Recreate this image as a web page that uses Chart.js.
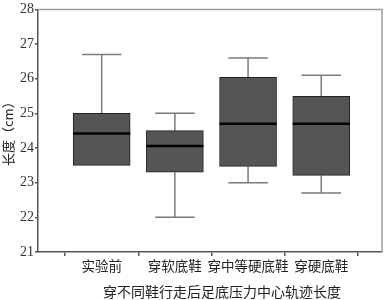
<!DOCTYPE html>
<html>
<head>
<meta charset="utf-8">
<script src="https://cdn.jsdelivr.net/npm/chart.js@4/dist/chart.umd.min.js"></script>
<style>
  html, body { margin: 0; padding: 0; background: #fff; }
</style>
</head>
<body>
<canvas id="chart_Box" width="385" height="300"></canvas>
<script>
const categories = ['实验前', '穿软底鞋', '穿中等硬底鞋', '穿硬底鞋'];
const whiskerMax = [26.7, 25.0, 26.6, 26.1];
const q3 = [25.0, 24.5, 26.04, 25.49];
const median = [24.42, 24.06, 24.7, 24.7];
const q1 = [23.5, 23.3, 23.47, 23.21];
const whiskerMin = [23.5, 22.0, 23.0, 22.7];
const yTicks = [21, 22, 23, 24, 25, 26, 27, 28];

const CJK = '"Noto Sans CJK SC", sans-serif';

// line segments built from the arrays, split with gaps
function segments(list) {
  var out = [];
  list.forEach(function (s) {
    out.push({x: s[0], y: s[1]}, {x: s[2], y: s[3]}, {x: null, y: null});
  });
  return out;
}

var cap = 0.27, half = 0.39;
var whiskerSegs = [];
var medianSegs = [];
categories.forEach(function (c, i) {
  var x = i + 1;
  if (whiskerMax[i] > q3[i]) {
    whiskerSegs.push([x, q3[i], x, whiskerMax[i]]);
    whiskerSegs.push([x - cap, whiskerMax[i], x + cap, whiskerMax[i]]);
  }
  if (whiskerMin[i] < q1[i]) {
    whiskerSegs.push([x, q1[i], x, whiskerMin[i]]);
    whiskerSegs.push([x - cap, whiskerMin[i], x + cap, whiskerMin[i]]);
  }
  medianSegs.push([x - half, median[i], x + half, median[i]]);
});

const framePlugin = {
  id: 'frame',
  afterDraw(chart) {
    var a = chart.chartArea, ctx = chart.ctx;
    ctx.save();
    ctx.strokeStyle = '#9a9a9a';
    ctx.lineWidth = 1.5;
    ctx.beginPath();
    ctx.moveTo(a.left, a.top);
    ctx.lineTo(a.right, a.top);
    ctx.lineTo(a.right, a.bottom);
    ctx.stroke();
    ctx.fillStyle = '#222';
    ctx.font = '14px ' + CJK;
    ctx.textAlign = 'center';
    ctx.textBaseline = 'middle';
    ctx.fillText('穿不同鞋行走后足底压力中心轨迹长度', 222, 292);
    ctx.restore();
  }
};

const ctx = document.getElementById('chart_Box');

new Chart(ctx, {
  type: 'bar',
  data: {
    datasets: [
      {
        type: 'bar',
        data: categories.map(function (c, i) { return {x: i + 1, y: [q1[i], q3[i]]}; }),
        backgroundColor: '#555555',
        borderColor: '#222222',
        borderWidth: 1,
        borderSkipped: false,
        barThickness: 57,
        order: 1
      },
      {
        type: 'scatter',
        data: segments(whiskerSegs),
        showLine: true,
        spanGaps: false,
        borderColor: '#7a7a7a',
        borderWidth: 1.5,
        pointRadius: 0,
        order: 2
      },
      {
        type: 'scatter',
        data: segments(medianSegs),
        showLine: true,
        spanGaps: false,
        borderColor: '#000000',
        borderWidth: 2.5,
        pointRadius: 0,
        order: 0
      }
    ]
  },
  options: {
    responsive: false,
    animation: false,
    layout: { padding: { top: 4, right: 3, left: 0, bottom: 0 } },
    scales: {
      x: {
        type: 'linear',
        min: 0.13,
        max: 4.83,
        offset: false,
        afterBuildTicks: function (s) { s.ticks = categories.map(function (c, i) { return {value: i + 1}; }); },
        afterFit: function (s) { s.height = 48; },
        grid: { drawOnChartArea: false, tickLength: 4, tickColor: '#555', lineWidth: 1.5 },
        border: { color: '#555', width: 1.5 },
        ticks: {
          autoSkip: false,
          maxRotation: 0,
          padding: 2,
          color: '#222',
          font: { family: CJK, size: 13.5 },
          callback: function (v) { return categories[v - 1]; }
        }
      },
      y: {
        min: 21,
        max: 28,
        afterBuildTicks: function (s) { s.ticks = yTicks.map(function (v) { return {value: v}; }); },
        afterFit: function (s) { s.width = 38; },
        grid: { drawOnChartArea: false, tickLength: 3, tickColor: '#555', lineWidth: 1.5 },
        border: { color: '#555', width: 1.5 },
        title: {
          display: true,
          text: '长度（cm）',
          color: '#222',
          font: { family: CJK, size: 13 },
          padding: { top: 0, bottom: 0 }
        },
        ticks: {
          padding: 1,
          color: '#333',
          font: { family: '"Liberation Serif", serif', size: 14 }
        }
      }
    },
    plugins: {
      legend: { display: false },
      tooltip: { enabled: false }
    }
  },
  plugins: [framePlugin]
});
</script>
</body>
</html>
